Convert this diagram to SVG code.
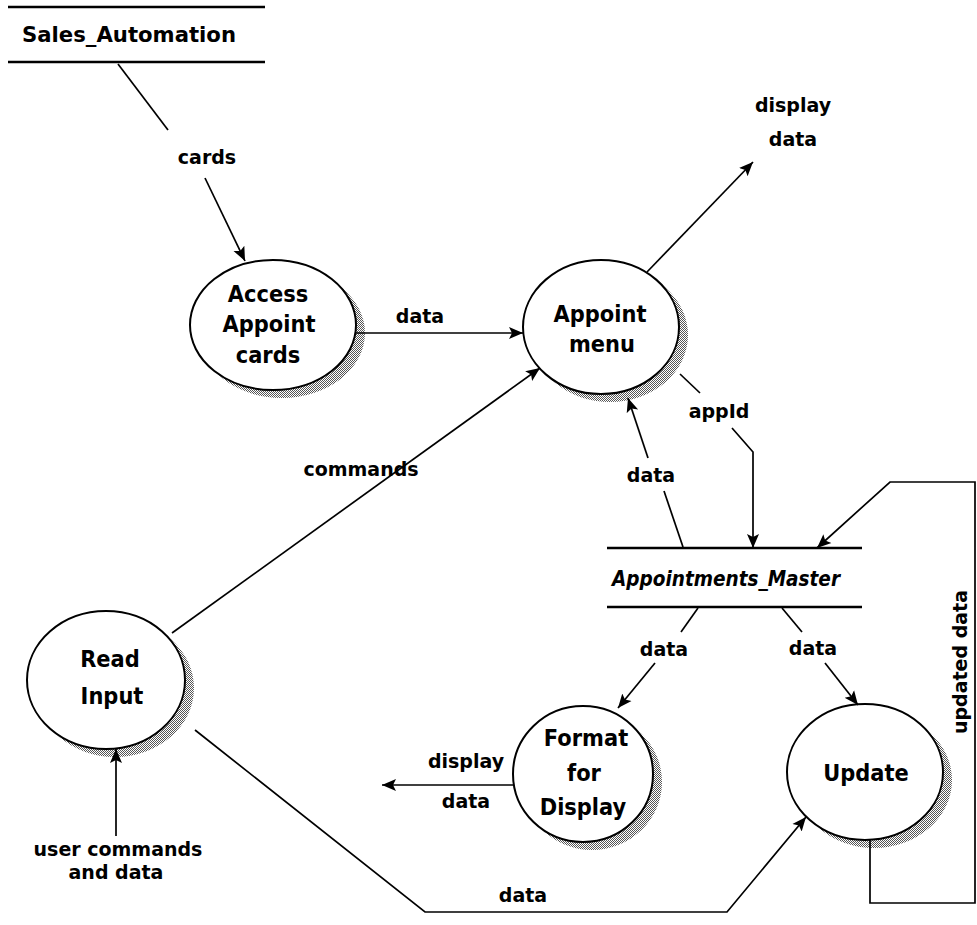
<svg xmlns="http://www.w3.org/2000/svg" width="977" height="925" viewBox="0 0 977 925">
  <style>
    .lbl { font-family: "DejaVu Sans", "Liberation Sans", sans-serif; font-weight: bold; font-size: 19px; fill: #000; text-anchor: middle; }
    .ntx { font-family: "DejaVu Sans", "Liberation Sans", sans-serif; font-weight: bold; font-size: 21px; fill: #000; text-anchor: middle; }
    .store { font-family: "DejaVu Sans", "Liberation Sans", sans-serif; font-weight: bold; font-size: 21px; fill: #000; }
    .bubble { fill: #fff; stroke: #000; stroke-width: 2; }
    .shade { fill: url(#dither); stroke: none; }
    .rule { stroke: #000; stroke-width: 2.5; fill: none; }
    .flow { stroke: #000; stroke-width: 1.7; fill: none; }
    .flow.arr { marker-end: url(#head); }
  </style>
  <defs>
    <pattern id="dither" width="2" height="2" patternUnits="userSpaceOnUse">
      <rect width="2" height="2" fill="#fff"/>
      <rect width="1" height="1" fill="#555"/>
      <rect x="1" y="1" width="1" height="1" fill="#555"/>
    </pattern>
    <marker id="head" markerUnits="userSpaceOnUse" markerWidth="16" markerHeight="14" refX="14" refY="7" orient="auto">
      <path d="M0,1 L14,7 L0,13 L3,7 Z" fill="#000"/>
    </marker>
  </defs>

  <rect width="977" height="925" fill="#fff"/>

  <!-- data stores -->
  <g id="sales_automation">
    <line class="rule" x1="8" y1="7" x2="265" y2="7"/>
    <line class="rule" x1="8" y1="62" x2="265" y2="62"/>
    <text class="store" x="22" y="42" textLength="214" lengthAdjust="spacingAndGlyphs">Sales_Automation</text>
  </g>
  <g id="appointments_master">
    <line class="rule" x1="607" y1="548" x2="862" y2="548"/>
    <line class="rule" x1="607" y1="607" x2="862" y2="607"/>
    <text class="store" x="612" y="586" font-style="italic" font-size="19" textLength="228" lengthAdjust="spacingAndGlyphs">Appointments_Master</text>
  </g>

  <!-- processes -->
  <g id="access_appoint_cards">
    <ellipse class="shade" cx="282" cy="333" rx="83" ry="65"/>
    <ellipse class="bubble" cx="273" cy="325" rx="83" ry="65"/>
    <text class="ntx" transform="translate(268,302) scale(1,1.1)">Access</text>
    <text class="ntx" transform="translate(269,332) scale(1,1.1)">Appoint</text>
    <text class="ntx" transform="translate(268,363) scale(1,1.1)">cards</text>
  </g>
  <g id="appoint_menu">
    <ellipse class="shade" cx="610" cy="335" rx="78" ry="67"/>
    <ellipse class="bubble" cx="601" cy="327" rx="78" ry="67"/>
    <text class="ntx" transform="translate(600,322) scale(1,1.1)">Appoint</text>
    <text class="ntx" transform="translate(602,352) scale(1,1.1)">menu</text>
  </g>
  <g id="read_input">
    <ellipse class="shade" cx="115" cy="688" rx="79" ry="69"/>
    <ellipse class="bubble" cx="106" cy="680" rx="79" ry="69"/>
    <text class="ntx" transform="translate(110,667) scale(1,1.1)">Read</text>
    <text class="ntx" transform="translate(112,704) scale(1,1.1)">Input</text>
  </g>
  <g id="format_for_display">
    <ellipse class="shade" cx="592" cy="782" rx="70" ry="68"/>
    <ellipse class="bubble" cx="583" cy="774" rx="70" ry="68"/>
    <text class="ntx" transform="translate(586,746) scale(1,1.1)">Format</text>
    <text class="ntx" transform="translate(584,781) scale(1,1.1)">for</text>
    <text class="ntx" transform="translate(583,815) scale(1,1.1)">Display</text>
  </g>
  <g id="update">
    <ellipse class="shade" cx="874" cy="780" rx="78" ry="68"/>
    <ellipse class="bubble" cx="865" cy="772" rx="78" ry="68"/>
    <text class="ntx" transform="translate(866,781) scale(1,1.1)">Update</text>
  </g>

  <!-- data flows -->
  <g id="flows">
    <path class="flow" d="M118,64 L168,130"/>
    <path class="flow arr" d="M205,178 L245,261"/>
    <text class="lbl" x="207" y="164">cards</text>

    <path class="flow arr" d="M355,333 L523,333"/>
    <text class="lbl" x="420" y="323">data</text>

    <path class="flow arr" d="M647,272 L753,162"/>
    <text class="lbl" x="793" y="112">display</text>
    <text class="lbl" x="793" y="146">data</text>

    <path class="flow" d="M680,374 L700,393"/>
    <path class="flow arr" d="M732,428 L753,452 L753,548"/>
    <text class="lbl" x="719" y="418">appId</text>

    <path class="flow" d="M683,547 L664,491"/>
    <path class="flow arr" d="M648,458 L628,398"/>
    <text class="lbl" x="651" y="482">data</text>

    <path class="flow arr" d="M172,633 L540,368"/>
    <text class="lbl" x="361" y="476">commands</text>

    <path class="flow arr" d="M116,836 L116,749"/>
    <text class="lbl" x="118" y="856">user commands</text>
    <text class="lbl" x="116" y="879">and data</text>

    <path class="flow arr" d="M195,730 L425,912 L727,912 L806,817"/>
    <text class="lbl" x="523" y="902">data</text>

    <path class="flow" d="M698,608 L681,632"/>
    <path class="flow arr" d="M655,663 L618,708"/>
    <text class="lbl" x="664" y="656">data</text>

    <path class="flow arr" d="M514,785 L382,785"/>
    <text class="lbl" x="466" y="768">display</text>
    <text class="lbl" x="466" y="808">data</text>

    <path class="flow" d="M782,608 L802,632"/>
    <path class="flow arr" d="M825,663 L858,705"/>
    <text class="lbl" x="813" y="655">data</text>

    <path class="flow arr" d="M870,840 L870,903 L975,903 L975,482 L890,482 L817,548"/>
    <text class="lbl" font-size="21" transform="translate(967,662) rotate(-90)">updated data</text>
  </g>
</svg>
